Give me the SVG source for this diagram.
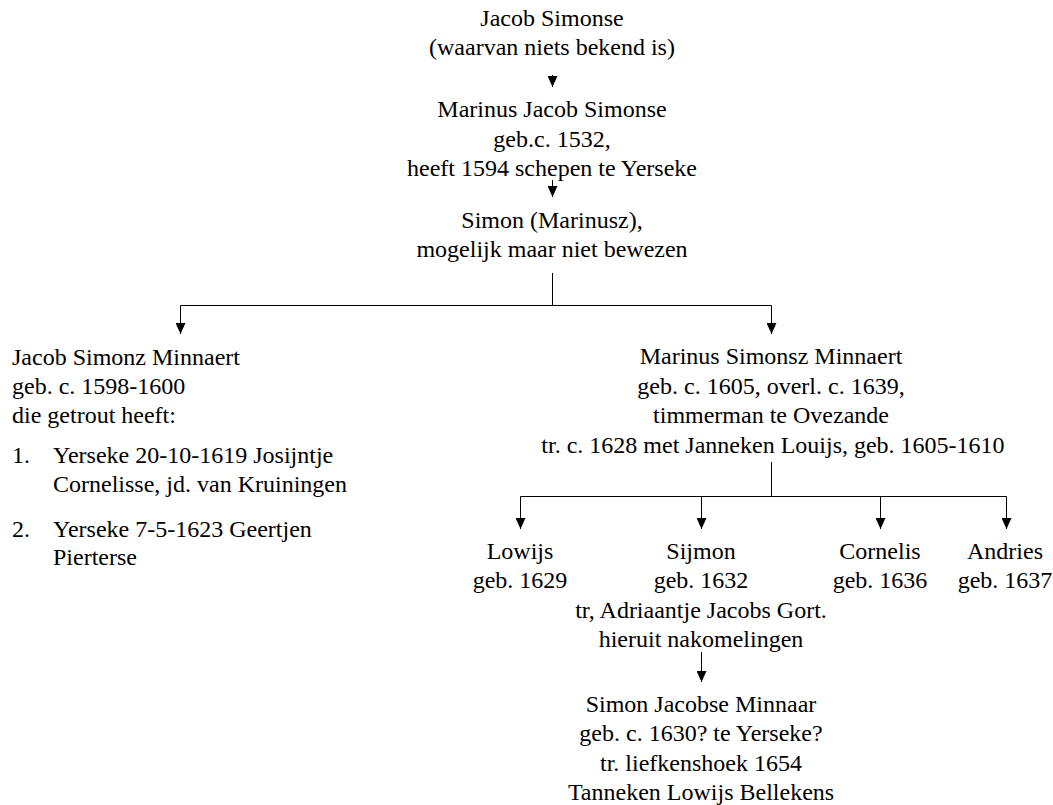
<svg xmlns="http://www.w3.org/2000/svg" width="1053" height="805" viewBox="0 0 1053 805">
<defs>
<style>
text{font-family:'Liberation Serif','Times New Roman',Times,serif;font-size:24px;fill:#000}
.c{text-anchor:middle}
.l{fill:none;stroke:#000;stroke-width:1}
.a{fill:none;stroke:#000;stroke-width:1;marker-end:url(#ah)}
</style>
<marker id="ah" viewBox="0 0 11 10" refX="11" refY="5" markerWidth="11" markerHeight="10" markerUnits="userSpaceOnUse" orient="auto">
<path d="M0,0 L11,5 L0,10 z" fill="#000"/>
</marker>
</defs>
<rect width="1053" height="805" fill="#fff"/>
<g id="connectors">
<path class="a" d="M552.5,75 V87"/>
<path class="a" d="M552.5,180 V197"/>
<path class="l" d="M552.5,273 V305.5 M180.5,305.5 H771.5"/>
<path class="a" d="M180.5,305.5 V334"/>
<path class="a" d="M771.5,305.5 V334"/>
<path class="l" d="M771.5,462 V496.5 M520.5,496.5 H1006.5"/>
<path class="a" d="M520.5,496.5 V529"/>
<path class="a" d="M701.5,496.5 V529"/>
<path class="a" d="M880.5,496.5 V529"/>
<path class="a" d="M1006.5,496.5 V529"/>
<path class="a" d="M701.5,652 V682"/>
</g>
<g id="n1">
<text class="c" x="552" y="26">Jacob Simonse</text>
<text class="c" x="552" y="55">(waarvan niets bekend is)</text>
</g>
<g id="n2">
<text class="c" x="552" y="117">Marinus Jacob Simonse</text>
<text class="c" x="552" y="147">geb.c. 1532,</text>
<text class="c" x="552" y="176">heeft 1594 schepen te Yerseke</text>
</g>
<g id="n3">
<text class="c" x="552" y="228">Simon (Marinusz),</text>
<text class="c" x="552" y="257">mogelijk maar niet bewezen</text>
</g>
<g id="n4">
<text x="12" y="365">Jacob Simonz Minnaert</text>
<text x="12" y="394">geb. c. 1598-1600</text>
<text x="12" y="423">die getrout heeft:</text>
<text x="12" y="463">1.</text>
<text x="53" y="463">Yerseke 20-10-1619 Josijntje</text>
<text x="53" y="492">Cornelisse, jd. van Kruiningen</text>
<text x="12" y="537">2.</text>
<text x="53" y="537">Yerseke 7-5-1623 Geertjen</text>
<text x="53" y="565">Pierterse</text>
</g>
<g id="n5">
<text class="c" x="771" y="364">Marinus Simonsz Minnaert</text>
<text class="c" x="771" y="394">geb. c. 1605, overl. c. 1639,</text>
<text class="c" x="771" y="423">timmerman te Ovezande</text>
<text class="c" x="773" y="453">tr. c. 1628 met Janneken Louijs, geb. 1605-1610</text>
</g>
<g id="n6">
<text class="c" x="520" y="559">Lowijs</text>
<text class="c" x="520" y="588">geb. 1629</text>
</g>
<g id="n7">
<text class="c" x="701" y="559">Sijmon</text>
<text class="c" x="701" y="588">geb. 1632</text>
<text class="c" x="701" y="618">tr, Adriaantje Jacobs Gort.</text>
<text class="c" x="701" y="647">hieruit nakomelingen</text>
</g>
<g id="n8">
<text class="c" x="880" y="559">Cornelis</text>
<text class="c" x="880" y="588">geb. 1636</text>
</g>
<g id="n9">
<text class="c" x="1005" y="559">Andries</text>
<text class="c" x="1005" y="588">geb. 1637</text>
</g>
<g id="n10">
<text class="c" x="701" y="712">Simon Jacobse Minnaar</text>
<text class="c" x="701" y="741">geb. c. 1630? te Yerseke?</text>
<text class="c" x="701" y="771">tr. liefkenshoek 1654</text>
<text class="c" x="701" y="800">Tanneken Lowijs Bellekens</text>
</g>
</svg>
